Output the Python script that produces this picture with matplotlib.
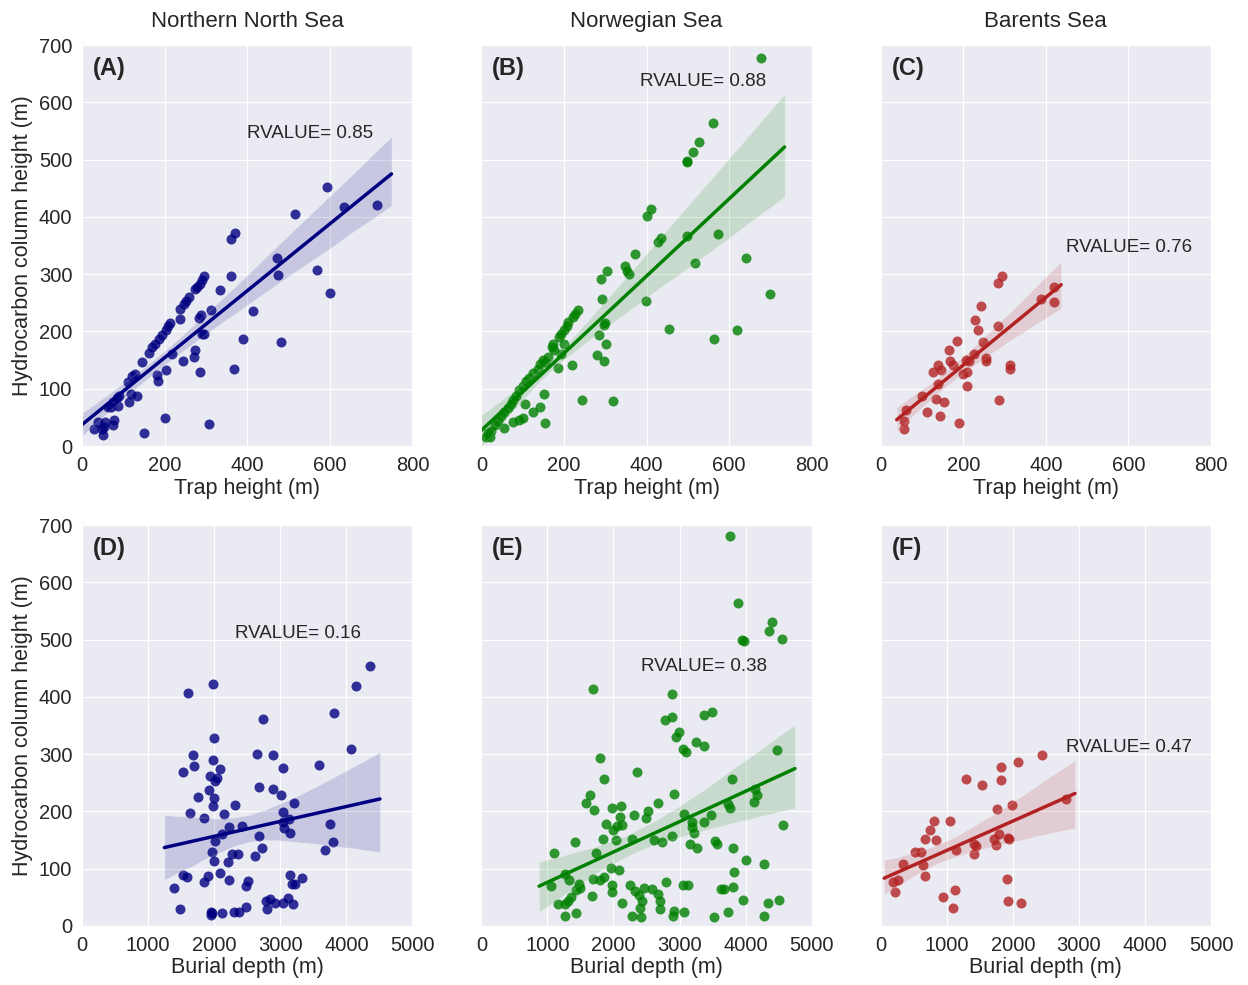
import matplotlib
matplotlib.use("Agg")
import matplotlib.pyplot as plt
import numpy as np
import seaborn as sns

# ---- data (m) ----
# top row: trap height vs hydrocarbon column height
nns_trap = [592, 634, 715, 516, 370, 360, 471, 475, 569, 601, 361, 296, 291, 285, 279, 273,
            259, 252, 247, 238, 238, 287, 284, 312, 333, 413, 214, 209, 204, 193, 186, 177,
            169, 162, 146, 218, 244, 273, 271, 291, 295, 286, 204, 181, 184, 128, 120, 112,
            132, 118, 113, 90, 84, 76, 70, 64, 88, 78, 74, 55, 39, 30, 48, 50, 201, 151,
            307, 391, 483, 369, 54]
nns_hc = [452, 418, 420, 405, 371, 361, 328, 299, 308, 267, 296, 297, 290, 283, 277, 274,
          260, 254, 248, 240, 222, 228, 223, 238, 273, 235, 215, 209, 202, 193, 187, 178,
          173, 163, 147, 160, 148, 167, 156, 196, 196, 130, 133, 124, 113, 126, 123, 112,
          87, 91, 77, 88, 83, 77, 68, 68, 70, 45, 36, 42, 42, 30, 30, 20, 49, 23,
          39, 186, 181, 135, 33]

nor_trap = [677, 562, 527, 512, 497, 497, 411, 401, 434, 428, 498, 573, 373, 348, 353, 357,
            304, 290, 518, 640, 700, 398, 293, 235, 227, 221, 211, 207, 201, 193, 187, 199,
            174, 171, 177, 193, 161, 149, 141, 153, 137, 186, 219, 125, 115, 108, 100, 92,
            84, 76, 71, 64, 56, 48, 40, 32, 24, 16, 12, 300, 298, 284, 303, 280, 296, 455,
            563, 620, 152, 106, 143, 125, 100, 91, 76, 55, 154, 243, 318, 20]
nor_hc = [678, 563, 530, 514, 498, 495, 414, 402, 363, 356, 367, 370, 335, 315, 306, 301,
          306, 292, 319, 328, 266, 254, 256, 238, 231, 225, 216, 209, 203, 196, 190, 178,
          178, 173, 167, 161, 155, 151, 144, 147, 135, 137, 141, 128, 119, 113, 105, 97,
          88, 81, 74, 67, 59, 52, 43, 36, 27, 22, 15, 215, 212, 193, 178, 158, 148, 205,
          187, 202, 90, 73, 68, 59, 49, 46, 42, 31, 40, 81, 78, 16]

bar_trap = [294, 284, 419, 388, 419, 244, 228, 236, 284, 184, 248, 165, 226, 207, 215, 255,
            255, 169, 175, 139, 145, 127, 210, 200, 314, 314, 138, 210, 99, 133, 153, 286,
            112, 144, 190, 61, 57, 57]
bar_hc = [296, 285, 278, 256, 252, 245, 220, 202, 210, 183, 181, 167, 160, 151, 149, 154,
          149, 149, 141, 142, 133, 130, 130, 126, 142, 135, 109, 105, 88, 82, 76, 80,
          59, 52, 40, 63, 43, 30]

# bottom row: burial depth vs hydrocarbon column height
nns_depth = [4360, 4150, 1605, 1980, 3810, 2745, 4070, 2005, 1680, 1690, 1530, 2650, 2895,
             1980, 2085, 1935, 2045, 2020, 3590, 3040, 2680, 2895, 3005, 1920, 1750, 2000,
             1985, 2320, 3210, 1630, 2145, 1840, 3045, 3125, 3045, 2230, 2425, 2125, 3060,
             3145, 3755, 2675, 2020, 3795, 3670, 2720, 1960, 2265, 2365, 2205, 2620, 2000,
             2095, 1535, 1585, 1905, 1850, 2230, 2510, 2485, 3155, 3325, 3180, 3220, 1395,
             1490, 1955, 1970, 2125, 2300, 2370, 2475, 2785, 2850, 2795, 2925, 3035, 3120,
             3200, 1950]
nns_hc_d = [453, 419, 406, 422, 372, 362, 309, 329, 298, 279, 268, 301, 298, 289, 274, 261,
            259, 253, 281, 275, 242, 240, 228, 238, 225, 224, 209, 212, 215, 198, 196, 189,
            199, 187, 182, 173, 174, 161, 171, 163, 178, 157, 149, 146, 133, 136, 130, 125,
            125, 112, 122, 113, 93, 89, 86, 88, 76, 81, 78, 70, 89, 84, 74, 73, 67,
            29, 25, 22, 22, 24, 25, 34, 44, 47, 30, 40, 41, 49, 38, 20]

nor_depth = [3765, 3880, 4400, 4360, 4545, 3940, 3975, 1695, 2885, 2785, 2885, 3365, 3490,
             2995, 2945, 3045, 3100, 3245, 3365, 4480, 1800, 2350, 1850, 3800, 2915, 1640,
             1580, 1710, 2680, 1980, 2120, 2525, 2490, 2310, 2100, 2130, 2060, 2000, 1885,
             3065, 3185, 3375, 3475, 3730, 3765, 4140, 4165, 4125, 4570, 3185, 3215, 2885,
             2280, 2615, 2735, 1840, 2040, 1415, 1105, 1730, 3155, 3270, 3540, 3570, 3805,
             4005, 4280, 3830, 1965, 2080, 1265, 1320, 1690, 1795, 1850, 1050, 1475, 1500,
             1435, 1970, 1970, 2255, 2330, 2455, 2580, 2680, 2800, 3055, 3125, 3630, 3670,
             3815, 1360, 1315, 1165, 1265, 1680, 2380, 2430, 2405, 2130, 2705, 2705, 2280,
             2420, 1265, 1435, 2910, 2895, 3060, 3515, 3730, 3960, 4280, 4335, 4505]
nor_hc_d = [681, 564, 530, 515, 501, 499, 497, 414, 405, 360, 365, 369, 373, 338, 330, 309,
            304, 321, 315, 308, 294, 268, 257, 256, 231, 229, 215, 203, 215, 206, 209, 201,
            189, 193, 190, 177, 174, 168, 178, 195, 181, 181, 194, 213, 206, 239, 229, 216,
            176, 172, 162, 157, 151, 150, 147, 151, 150, 146, 128, 128, 143, 137, 149, 143,
            137, 116, 108, 95, 102, 98, 91, 80, 82, 80, 86, 70, 73, 67, 63, 71, 60, 71,
            61, 67, 64, 56, 77, 71, 71, 64, 65, 68, 50, 44, 38, 38, 52, 54, 44, 32, 40, 43,
            30, 17, 15, 18, 23, 26, 18, 25, 16, 25, 46, 18, 40, 45]

bar_depth = [2445, 2085, 1815, 1825, 1285, 1535, 2810, 1990, 1755, 1045, 810, 745, 670, 835,
             1795, 1715, 1740, 1920, 1940, 1420, 1445, 1410, 1135, 525, 615, 335, 635, 675,
             265, 185, 210, 1915, 945, 1120, 1090, 1920, 2120]
bar_hc_d = [298, 286, 278, 254, 257, 246, 221, 211, 204, 184, 183, 167, 151, 150, 160, 151,
            142, 154, 151, 144, 140, 126, 133, 130, 130, 109, 106, 88, 80, 77, 60, 82, 51,
            63, 31, 43, 41]

regions = ["Northern North Sea", "Norwegian Sea", "Barents Sea"]
colors = ["navy", "green", "firebrick"]
panel_tags = [["(A)", "(B)", "(C)"], ["(D)", "(E)", "(F)"]]
rvalues = [["0.85", "0.88", "0.76"], ["0.16", "0.38", "0.47"]]
rvalue_pos = [[(400, 545), (385, 636), (450, 347)],
              [(2320, 511), (2410, 453), (2810, 311)]]

top_data = [(nns_trap, nns_hc), (nor_trap, nor_hc), (bar_trap, bar_hc)]
bot_data = [(nns_depth, nns_hc_d), (nor_depth, nor_hc_d), (bar_depth, bar_hc_d)]

sns.set_style("darkgrid")
plt.rcParams["font.family"] = ["Liberation Sans", "DejaVu Sans"]
plt.rcParams["text.color"] = "#262626"

fig, axes = plt.subplots(2, 3, figsize=(12.48, 9.85), dpi=100, sharey=True)
fig.subplots_adjust(left=0.0657, right=0.9704, top=0.9543, bottom=0.0599,
                    wspace=0.2085, hspace=0.197)

for row, data in enumerate([top_data, bot_data]):
    for col, (x, y) in enumerate(data):
        ax = axes[row, col]
        sns.regplot(x=np.array(x, float), y=np.array(y, float), ax=ax,
                    color=colors[col], truncate=False, seed=0,
                    scatter_kws={"s": 52, "linewidths": 0},
                    line_kws={"lw": 2.5})
        ax.set_ylim(0, 700)
        ax.set_yticks(range(0, 701, 100))
        if row == 0:
            ax.set_xlim(0, 800)
            ax.set_xticks(range(0, 801, 200))
            ax.set_xlabel("Trap height (m)", fontsize=15.5, labelpad=2)
            ax.set_title(regions[col], fontsize=16, pad=13)
        else:
            ax.set_xlim(0, 5000)
            ax.set_xticks(range(0, 5001, 1000))
            ax.set_xlabel("Burial depth (m)", fontsize=15.5, labelpad=2)
        if col == 0:
            ax.set_ylabel("Hydrocarbon column height (m)", fontsize=15.5)
        ax.tick_params(labelsize=14.5)
        ax.text(0.033, 0.97, panel_tags[row][col], transform=ax.transAxes,
                fontsize=17, fontweight="bold", va="top", ha="left")
        rx, ry = rvalue_pos[row][col]
        ax.text(rx, ry, f"RVALUE= {rvalues[row][col]}", fontsize=13.5,
                ha="left", va="center")

fig.savefig("out.png", dpi=100)
